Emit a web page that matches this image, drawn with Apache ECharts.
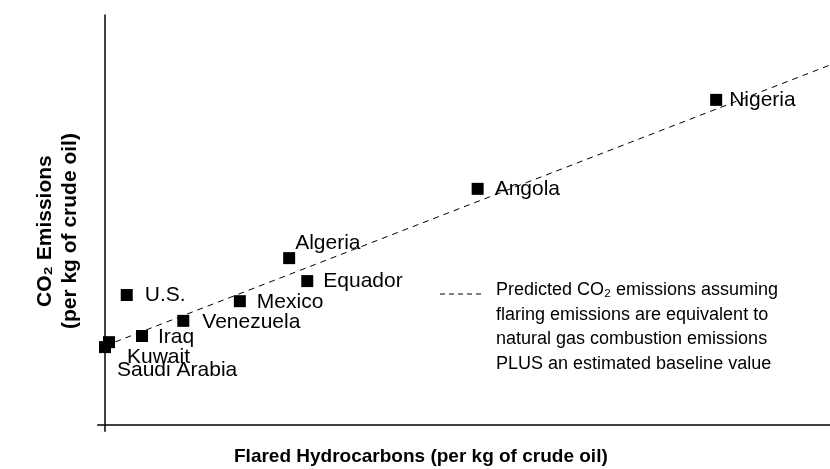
<!DOCTYPE html>
<html>
<head>
<meta charset="utf-8">
<script src="https://cdn.jsdelivr.net/npm/echarts@6/dist/echarts.min.js"></script>
<style>
  html, body { margin: 0; padding: 0; background: #fff; }
  #chart { width: 830px; height: 469px; }
</style>
</head>
<body>
<div id="chart"></div>
<script>
// countries and values (arbitrary units, axes have no ticks)
const countries = ['Nigeria', 'Angola', 'Algeria', 'Equador', 'Mexico', 'U.S.', 'Venezuela', 'Iraq', 'Kuwait', 'Saudi Arabia']
const flared = [84.3, 51.4, 25.4, 27.9, 18.6, 3.0, 10.8, 5.1, 0.55, 0]
const co2 = [79.3, 57.6, 40.7, 35.1, 30.2, 31.7, 25.4, 21.7, 20.2, 19.0]

// predicted line: two end points
const predictedX = [0, 100]
const predictedY = [19.3, 87.8]

const legendText = 'Predicted CO₂ emissions assuming\nflaring emissions are equivalent to\nnatural gas combustion emissions\nPLUS an estimated baseline value'

// label nudges so the names sit like in the original
const labelOffset = {
  'Nigeria': [7, 0],
  'Angola': [11, 0],
  'Algeria': [0, -15],
  'Equador': [10, 0],
  'Mexico': [11, 1],
  'U.S.': [12, 0],
  'Venezuela': [13, 1],
  'Iraq': [10, 1],
  'Kuwait': [12, 15],
  'Saudi Arabia': [6, 23]
}

const font = '"Liberation Sans", Arial, sans-serif'

const chart = echarts.init(document.getElementById('chart'))

const points = countries.map((name, i) => ({
  name,
  value: [flared[i], co2[i]],
  label: { offset: labelOffset[name] || [0, 0] }
}))

chart.setOption({
  animation: false,
  textStyle: { fontFamily: font },
  grid: { left: 97.75, right: 0, top: 15, bottom: 37.85, containLabel: false, outerBoundsMode: 'none' },
  // legend drawn by hand: dashed sample plus four lines of text
  graphic: [
    {
      type: 'line',
      shape: { x1: 440, y1: 294, x2: 482, y2: 294 },
      style: { stroke: '#000', lineWidth: 1, lineDash: [5, 4] }
    },
    {
      type: 'text',
      left: 496,
      top: 278,
      style: {
        text: legendText,
        font: '18px ' + font,
        lineHeight: 24.5,
        fill: '#000'
      }
    }
  ],
  xAxis: {
    type: 'value',
    min: -1,
    max: 100,
    name: 'Flared Hydrocarbons (per kg of crude oil)',
    nameLocation: 'middle',
    nameGap: 16,
    nameTextStyle: { fontSize: 19, fontWeight: 'bold', color: '#000', padding: [0, 86, 0, 0] },
    axisLine: { onZero: true, lineStyle: { color: '#000', width: 1.5 } },
    axisTick: { show: false },
    axisLabel: { show: false },
    splitLine: { show: false }
  },
  yAxis: {
    type: 'value',
    min: -1.5,
    max: 100,
    name: 'CO₂ Emissions\n(per kg of crude oil)',
    nameLocation: 'middle',
    nameGap: 15,
    nameRotate: 90,
    nameTextStyle: { fontSize: 21, fontWeight: 'bold', color: '#000', lineHeight: 25, align: 'center', padding: [0, 16, 0, 0] },
    axisLine: { onZero: true, lineStyle: { color: '#000', width: 1.5 } },
    axisTick: { show: false },
    axisLabel: { show: false },
    splitLine: { show: false }
  },
  series: [
    {
      name: 'predicted',
      type: 'line',
      data: predictedX.map((x, i) => [x, predictedY[i]]),
      symbol: 'none',
      lineStyle: { color: '#000', width: 1, type: [6, 5] },
      itemStyle: { color: '#000' },
      z: 1
    },
    {
      name: 'countries',
      type: 'scatter',
      data: points,
      symbol: 'rect',
      symbolSize: 12,
      itemStyle: { color: '#000', opacity: 1 },
      label: {
        show: true,
        position: 'right',
        distance: 0,
        formatter: '{b}',
        fontSize: 21,
        color: '#000',
        fontFamily: font
      },
      z: 3
    }
  ]
})
</script>
</body>
</html>
